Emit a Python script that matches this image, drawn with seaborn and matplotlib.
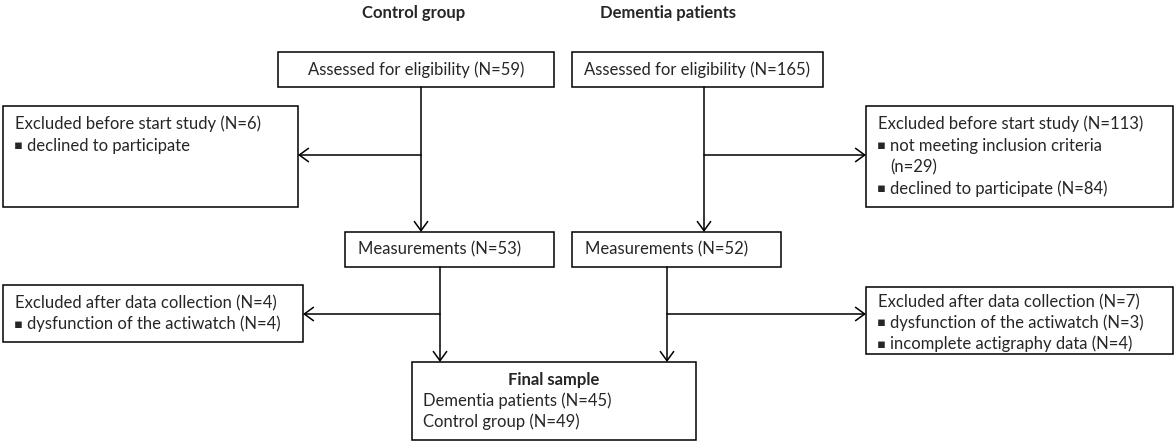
import matplotlib
matplotlib.use("Agg")
import matplotlib.pyplot as plt
from matplotlib.patches import Rectangle
import seaborn as sns

# ---------------------------------------------------------------------------
# Flow data
groups = ["Control group", "Dementia patients"]
assessed_n = [59, 165]
excluded_before_n = [6, 113]
excluded_before_reasons = [
    [["declined to participate"]],
    [["not meeting inclusion criteria", "(n=29)"], ["declined to participate (N=84)"]],
]
measured_n = [53, 52]
excluded_after_n = [4, 7]
excluded_after_reasons = [
    [["dysfunction of the actiwatch (N=4)"]],
    [["dysfunction of the actiwatch (N=3)"], ["incomplete actigraphy data (N=4)"]],
]
final_labels = ["Dementia patients", "Control group"]
final_n = [45, 49]

# ---------------------------------------------------------------------------
# Layout (pixel coordinates, y pointing down)
W, H = 1176, 443
header_x = [414, 668]
header_y = 13
assessed_box = [(278, 52, 554, 87), (572, 52, 823, 87)]
excl_before_box = [(3, 106, 298, 207), (866, 106, 1173, 207)]
measured_box = [(345, 232, 554, 267), (572, 232, 781, 267)]
excl_after_box = [(3, 285, 303, 342), (866, 287, 1173, 354)]
excl_after_first = [18, 15]
final_box = (412, 362, 696, 440)
trunk_top_x = [421, 704]
trunk_bot_x = [440, 667]
branch_y = [155, 314]

FS = 12
LINE = 21.5
LW = 1.1

sns.set_theme(style="white")
plt.rcParams["font.family"] = ["Lato", "DejaVu Sans"]

fig = plt.figure(figsize=(W / 100, H / 100), dpi=100)
ax = fig.add_axes([0, 0, 1, 1])
ax.set_xlim(0, W)
ax.set_ylim(H, 0)
ax.axis("off")


def box(b):
    x0, y0, x1, y1 = b
    ax.add_patch(Rectangle((x0, y0), x1 - x0, y1 - y0, fill=False,
                           edgecolor="black", lw=LW))


def arrow(x0, y0, x1, y1):
    ax.annotate("", xy=(x1, y1), xytext=(x0, y0),
                arrowprops=dict(arrowstyle="->,head_length=0.55,head_width=0.4",
                                lw=LW, color="black", shrinkA=0, shrinkB=0,
                                mutation_scale=12))


def bullet_box(b, title, items, first_y, line=LINE):
    x0 = b[0]
    ax.text(x0 + 12, first_y, title, fontsize=FS, va="center", ha="left")
    y = first_y
    for item in items:
        for k, txt in enumerate(item):
            y += line
            if k == 0:
                ax.text(x0 + 15, y, "\u25aa", fontsize=FS - 2.5, va="center",
                        ha="center", family="DejaVu Sans")
            ax.text(x0 + 24, y, txt, fontsize=FS, va="center", ha="left")


for i, g in enumerate(groups):
    ax.text(header_x[i], header_y, g, fontsize=FS, fontweight="bold",
            ha="center", va="center")

    b = assessed_box[i]
    box(b)
    ax.text((b[0] + b[2]) / 2, (b[1] + b[3]) / 2,
            f"Assessed for eligibility (N={assessed_n[i]})",
            fontsize=FS, ha="center", va="center")

    b = excl_before_box[i]
    box(b)
    bullet_box(b, f"Excluded before start study (N={excluded_before_n[i]})",
               excluded_before_reasons[i], b[1] + 18)

    b = measured_box[i]
    box(b)
    ax.text(b[0] + 13, (b[1] + b[3]) / 2, f"Measurements (N={measured_n[i]})",
            fontsize=FS, ha="left", va="center")

    b = excl_after_box[i]
    box(b)
    bullet_box(b, f"Excluded after data collection (N={excluded_after_n[i]})",
               excluded_after_reasons[i], b[1] + excl_after_first[i], line=21)

    # trunks and side branches
    arrow(trunk_top_x[i], assessed_box[i][3], trunk_top_x[i], measured_box[i][1])
    side = excl_before_box[i][2] if i == 0 else excl_before_box[i][0]
    arrow(trunk_top_x[i], branch_y[0], side, branch_y[0])
    arrow(trunk_bot_x[i], measured_box[i][3], trunk_bot_x[i], final_box[1])
    side = excl_after_box[i][2] if i == 0 else excl_after_box[i][0]
    arrow(trunk_bot_x[i], branch_y[1], side, branch_y[1])

box(final_box)
ax.text((final_box[0] + final_box[2]) / 2, final_box[1] + 18, "Final sample",
        fontsize=FS, fontweight="bold", ha="center", va="center")
for k, (lab, n) in enumerate(zip(final_labels, final_n)):
    ax.text(final_box[0] + 11, final_box[1] + 18 + LINE * (k + 1) - 1,
            f"{lab} (N={n})", fontsize=FS, ha="left", va="center")

fig.savefig("out.png", dpi=100)
